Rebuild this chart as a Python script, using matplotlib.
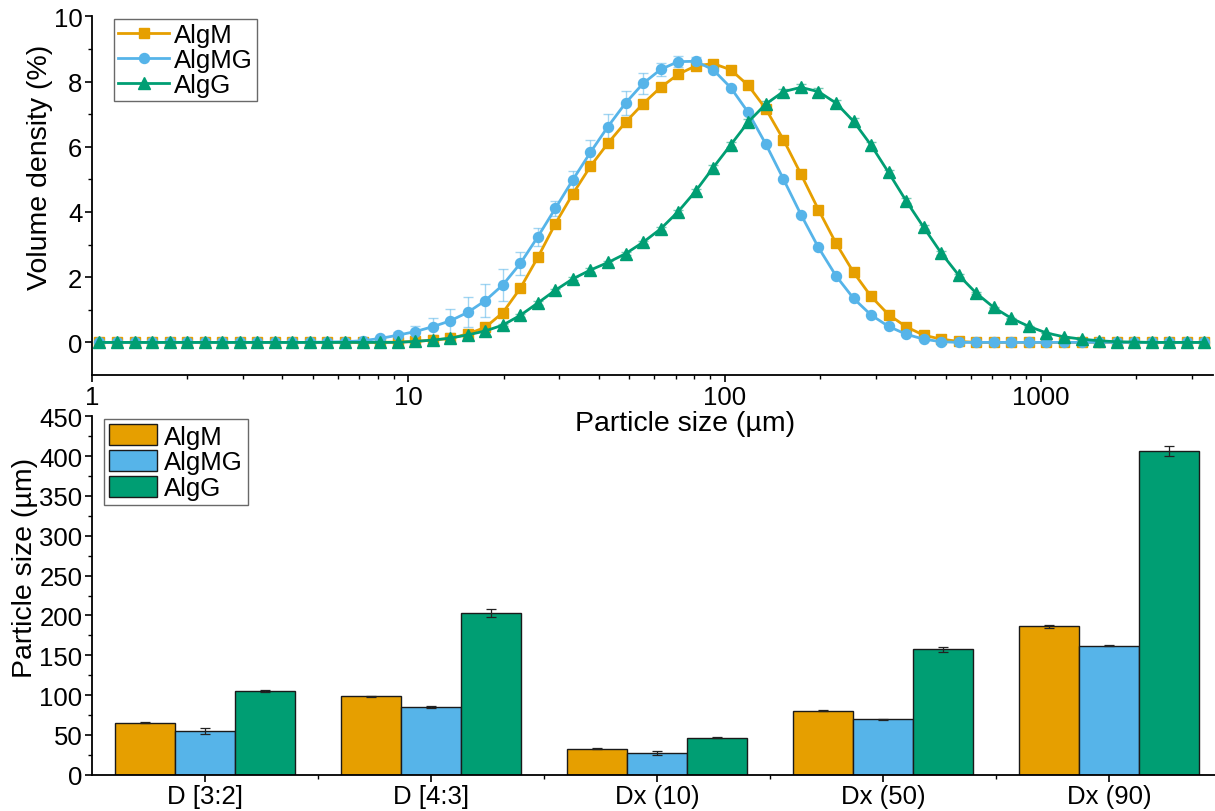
import matplotlib
matplotlib.use("Agg")
import matplotlib.pyplot as plt
import numpy as np
from matplotlib.ticker import MultipleLocator, FixedLocator, FuncFormatter, NullFormatter, LogLocator

plt.rcParams['font.family'] = ['Liberation Sans', 'DejaVu Sans']

# --- size distribution (volume density, %) ---
size_um = [1.056, 1.200, 1.363, 1.549, 1.760, 1.999, 2.271, 2.580, 2.932, 3.331,
           3.785, 4.300, 4.886, 5.551, 6.306, 7.165, 8.141, 9.249, 10.51, 11.94,
           13.56, 15.41, 17.51, 19.89, 22.60, 25.68, 29.17, 33.15, 37.66, 42.79,
           48.62, 55.24, 62.76, 71.30, 81.01, 92.04, 104.6, 118.8, 135.0, 153.4,
           174.3, 198.0, 225.0, 255.6, 290.4, 329.9, 374.9, 425.9, 483.9, 549.8,
           624.6, 709.7, 806.3, 916.1, 1041, 1183, 1344, 1527, 1735, 1971,
           2239, 2544, 2891, 3284]

algm = [0] * 17 + [0.01, 0.03, 0.07, 0.12, 0.26, 0.46, 0.91, 1.66, 2.61, 3.64,
                   4.56, 5.40, 6.11, 6.75, 7.32, 7.82, 8.22, 8.48, 8.55, 8.36,
                   7.88, 7.16, 6.22, 5.16, 4.07, 3.04, 2.15, 1.41, 0.85, 0.48,
                   0.22, 0.10, 0.03] + [0] * 14
algmg = [0] * 13 + [0.01, 0.02, 0.05, 0.12, 0.22, 0.33, 0.48, 0.66, 0.92, 1.28,
                    1.76, 2.42, 3.24, 4.11, 4.99, 5.83, 6.62, 7.34, 7.94, 8.37,
                    8.61, 8.62, 8.36, 7.81, 7.05, 6.08, 5.01, 3.92, 2.91, 2.04,
                    1.35, 0.84, 0.49, 0.25, 0.10, 0.02] + [0] * 15
algg = [0] * 18 + [0.03, 0.07, 0.13, 0.23, 0.35, 0.53, 0.83, 1.21, 1.60, 1.95,
                   2.22, 2.45, 2.72, 3.07, 3.48, 4.01, 4.64, 5.36, 6.06, 6.76,
                   7.31, 7.69, 7.82, 7.69, 7.34, 6.78, 6.05, 5.21, 4.34, 3.53,
                   2.74, 2.06, 1.51, 1.07, 0.74, 0.49, 0.29, 0.17, 0.10, 0.05,
                   0.02, 0.01] + [0] * 4

algm_err = [0] * 20 + [0.02, 0.03, 0.04, 0.05, 0.06, 0.06, 0.06, 0.05, 0.05, 0.05,
                       0.05, 0.05, 0.05, 0.05, 0.05, 0.05, 0.05, 0.05, 0.05, 0.04,
                       0.04, 0.03, 0.03, 0.02, 0.02] + [0] * 19
algmg_err = [0] * 15 + [0.03, 0.06, 0.10, 0.18, 0.26, 0.36, 0.46, 0.51, 0.49, 0.34,
                        0.28, 0.22, 0.28, 0.38, 0.38, 0.36, 0.31, 0.21, 0.18, 0.12,
                        0.08, 0.05, 0.04, 0.03, 0.03, 0.02, 0.02, 0.02] + [0] * 21
algg_err = [0] * 22 + [0.02, 0.03, 0.04, 0.05, 0.05, 0.05, 0.05, 0.05, 0.05, 0.05,
                       0.05, 0.06, 0.06, 0.07, 0.07, 0.08, 0.08, 0.08, 0.09, 0.10,
                       0.10, 0.10, 0.10, 0.09, 0.08, 0.06, 0.05, 0.04, 0.03, 0.03,
                       0.02, 0.02] + [0] * 10

# --- summary sizes (µm) ---
categories = ['D [3:2]', 'D [4:3]', 'Dx (10)', 'Dx (50)', 'Dx (90)']
bar_algm = [65.3, 98.4, 32.6, 80.4, 186.3]
bar_algmg = [54.5, 84.8, 27.2, 69.5, 162.0]
bar_algg = [105.1, 203.0, 46.5, 157.5, 406.8]
bar_algm_err = [0.5, 0.5, 0.3, 0.3, 1.5]
bar_algmg_err = [3.8, 1.0, 2.7, 1.0, 0.5]
bar_algg_err = [1.5, 5.2, 0.5, 3.3, 6.3]

C_M = '#E69F00'
C_MG = '#56B4E9'
C_G = '#009E73'

W, H = 1215, 812
fig = plt.figure(figsize=(W / 100, H / 100), dpi=100)

TICK_FS = 18.5
LABEL_FS = 20.5
LEG_FS = 18.5


def style_axes(ax):
    for s in ['top', 'right']:
        ax.spines[s].set_visible(False)
    for s in ['left', 'bottom']:
        ax.spines[s].set_linewidth(1.3)
    ax.tick_params(which='major', direction='out', length=5, width=1.2,
                   labelsize=TICK_FS, pad=2)
    ax.tick_params(which='minor', direction='out', length=3, width=1.0)


# ---------------- top panel ----------------
ax1 = fig.add_axes([92 / W, 1 - 376 / H, (1213 - 92) / W, (376 - 17.3) / H])
ax1.set_xscale('log')

for y, err, c in [(algm, algm_err, C_M), (algmg, algmg_err, C_MG), (algg, algg_err, C_G)]:
    ax1.errorbar(size_um, y, yerr=err, fmt='none', ecolor=c, alpha=0.55,
                 elinewidth=1.0, capsize=3.5, capthick=1.0, zorder=2)

l1, = ax1.plot(size_um, algm, '-s', color=C_M, lw=2, ms=6.5, label='AlgM', zorder=3)
l2, = ax1.plot(size_um, algmg, '-o', color=C_MG, lw=2, ms=7.2, label='AlgMG', zorder=3)
l3, = ax1.plot(size_um, algg, '-^', color=C_G, lw=2, ms=8, label='AlgG', zorder=3)

ax1.set_xlim(1, 3500)
ax1.set_ylim(-1, 10)
ax1.yaxis.set_major_locator(FixedLocator([0, 2, 4, 6, 8, 10]))
ax1.yaxis.set_minor_locator(FixedLocator([1, 3, 5, 7, 9]))
ax1.xaxis.set_major_locator(LogLocator(base=10))
ax1.xaxis.set_minor_locator(LogLocator(base=10, subs=np.arange(2, 10)))
ax1.xaxis.set_major_formatter(FuncFormatter(lambda v, p: f'{v:g}'))
ax1.xaxis.set_minor_formatter(NullFormatter())
style_axes(ax1)

ax1.set_xlabel('Particle size (µm)', fontsize=LABEL_FS, va='center')
ax1.xaxis.set_label_coords(0.529, -0.134)
ax1.set_ylabel('Volume density (%)', fontsize=LABEL_FS, va='center')
ax1.yaxis.set_label_coords(-0.0464, 0.583)

leg1 = ax1.legend(handles=[l1, l2, l3], loc='upper left', bbox_to_anchor=(0.0196, 0.9925),
                  borderaxespad=0, fontsize=LEG_FS, frameon=True, fancybox=False,
                  edgecolor='#444444', borderpad=0.15, labelspacing=0.05,
                  handlelength=2.0, handletextpad=0.2)
leg1.get_frame().set_linewidth(1.0)

# ---------------- bottom panel ----------------
ax2 = fig.add_axes([92 / W, 1 - 775.7 / H, 1130 / W, 358.4 / H])
ax2.set_facecolor('none')  # keep the top panel's x label visible
xpos = np.arange(len(categories))
bw = 0.265
for off, vals, errs, c, lab in [(-bw, bar_algm, bar_algm_err, C_M, 'AlgM'),
                                (0, bar_algmg, bar_algmg_err, C_MG, 'AlgMG'),
                                (bw, bar_algg, bar_algg_err, C_G, 'AlgG')]:
    ax2.bar(xpos + off, vals, width=bw, color=c, edgecolor='#1a1a1a', linewidth=1.0,
            label=lab, zorder=2)
    ax2.errorbar(xpos + off, vals, yerr=errs, fmt='none', ecolor='#222222',
                 elinewidth=0.9, capsize=3.5, capthick=0.9, zorder=3)

ax2.set_xlim(-0.5, 4.5)
ax2.set_ylim(0, 450)
ax2.set_xticks(xpos)
ax2.set_xticklabels(categories)
ax2.xaxis.set_minor_locator(FixedLocator(xpos[:-1] + 0.5))
ax2.yaxis.set_major_locator(MultipleLocator(50))
ax2.yaxis.set_minor_locator(MultipleLocator(25))
style_axes(ax2)

ax2.set_ylabel('Particle size (µm)', fontsize=LABEL_FS, va='center')
ax2.yaxis.set_label_coords(-0.0593, 0.58)

leg2 = ax2.legend(loc='upper left', bbox_to_anchor=(0.0106, 0.9925), borderaxespad=0,
                  fontsize=LEG_FS, frameon=True, fancybox=False, edgecolor='#444444',
                  borderpad=0.2, labelspacing=0.05, handlelength=1.87, handleheight=0.9,
                  handletextpad=0.27)
leg2.get_frame().set_linewidth(1.0)

fig.savefig('out.png', dpi=100)
